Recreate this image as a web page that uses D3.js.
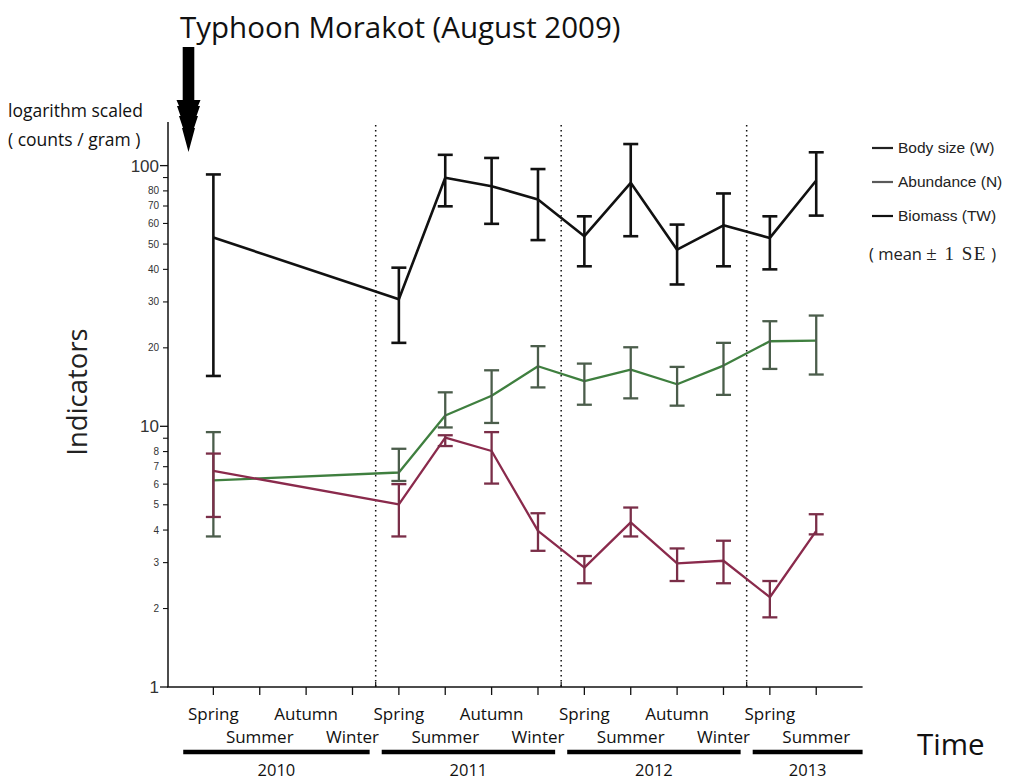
<!DOCTYPE html>
<html><head><meta charset="utf-8">
<script src="https://cdn.jsdelivr.net/npm/d3@7/dist/d3.min.js"></script>
<style>body{margin:0;background:#fff}svg{display:block}</style>
</head><body>
<script>
// ---- data ----
const seasons = ["Spring","Summer","Autumn","Winter","Spring","Summer","Autumn","Winter","Spring","Summer","Autumn","Winter","Spring","Summer"];
const years = ["2010","2011","2012","2013"];
const yearStart = [0,4,8,12];
const yearEnd = [3,7,11,13];
const sampled = [0,4,5,6,7,8,9,10,11,12,13];
// Biomass (TW) - black
const twMean  = [53.0,30.7,89.8,83.4,74.1,53.6,85.9,47.6,59.0,52.8,87.7];
const twUpper = [92.5,40.6,110,107,97.0,63.9,121,59.4,78.2,63.9,112.5];
const twLower = [15.6,20.9,69.8,59.8,51.8,41.1,53.6,35.0,41.1,40.0,64.3];
// Abundance (N) - green
const nMean  = [6.2,6.65,11.0,13.1,17.0,14.9,16.5,14.5,17.1,21.2,21.3];
const nUpper = [9.5,8.2,13.5,16.4,20.3,17.4,20.1,16.9,20.9,25.3,26.6];
const nLower = [3.78,6.17,9.9,10.3,14.1,12.1,12.8,12.0,13.2,16.6,15.8];
// Body size (W) - red
const wMean  = [6.74,5.02,9.05,8.04,3.97,2.87,4.28,2.98,3.05,2.21,3.97];
const wUpper = [7.86,6.0,9.24,9.5,4.64,3.18,4.88,3.40,3.64,2.55,4.60];
const wLower = [4.49,3.78,8.4,6.03,3.33,2.50,3.78,2.55,2.50,1.85,3.85];
const majorTicks = [1,10,100];
const minorTicks = [2,3,4,5,6,7,8,9,20,30,40,50,60,70,80,90];
const minorLabelled = [2,3,4,5,6,7,8,20,30,40,50,60,70,80];
const legendLabels = ["Body size (W)","Abundance (N)","Biomass (TW)"];

const W = 1012, H = 782;
const svg = d3.select("body").append("svg").attr("width",W).attr("height",H);
const x = d3.scaleLinear().domain([-1,14]).range([167,862.6]);
const y = d3.scaleLog().domain([1,147]).range([687,122]);
const sans = "'Open Sans', 'Noto Sans', sans-serif";
const arial = "'Liberation Sans', Arial, sans-serif";

// title
svg.append("text").attr("x",180).attr("y",38).attr("font-family",sans).attr("font-size",29.5).attr("fill","#111").text("Typhoon Morakot (August 2009)");
// arrow
svg.append("path").attr("fill","#000").attr("d",
 "M182.7,47 L194.3,47 L194.3,100 L200.5,100 L198,106 L200,106 L196.5,116 L198,116 L194,128 L195,128 L188.5,152 L182,128 L183,128 L179,116 L180.5,116 L177,106 L179,106 L176.5,100 L182.7,100 Z");

svg.append("text").attr("x",8).attr("y",117).attr("font-family",sans).attr("font-size",17.5).attr("fill","#111").text("logarithm scaled");
svg.append("text").attr("x",8).attr("y",146).attr("font-family",sans).attr("font-size",17.5).attr("fill","#111").text("( counts / gram )");

// axes lines
const axisColor = "#111";
svg.append("line").attr("x1",x(-1)+1).attr("x2",x(-1)+1).attr("y1",y(147)).attr("y2",y(1)).attr("stroke",axisColor).attr("stroke-width",1.5);
svg.append("line").attr("x1",x(-1)).attr("x2",x(14)).attr("y1",y(1)).attr("y2",y(1)).attr("stroke",axisColor).attr("stroke-width",1.5);
const ax0 = x(-1)+1;
// y ticks
majorTicks.forEach(t=>{
  svg.append("line").attr("x1",ax0-8).attr("x2",ax0).attr("y1",y(t)).attr("y2",y(t)).attr("stroke",axisColor).attr("stroke-width",1.3);
  svg.append("text").attr("x",ax0-9).attr("y",y(t)).attr("dy","0.35em").attr("text-anchor","end").attr("font-family",arial).attr("font-size",17).attr("fill","#333").text(d3.format("d")(t));
});
minorTicks.forEach(t=>{
  svg.append("line").attr("x1",ax0-5).attr("x2",ax0).attr("y1",y(t)).attr("y2",y(t)).attr("stroke",axisColor).attr("stroke-width",1.1);
});
minorLabelled.forEach(t=>{
  svg.append("text").attr("x",ax0-9).attr("y",y(t)).attr("dy","0.35em").attr("text-anchor","end").attr("font-family",arial).attr("font-size",10).attr("fill","#333").text(t);
});
// x ticks
seasons.forEach((s,i)=>{
  svg.append("line").attr("x1",x(i)).attr("x2",x(i)).attr("y1",y(1)).attr("y2",y(1)+8).attr("stroke",axisColor).attr("stroke-width",1.3);
  svg.append("text").attr("x",x(i)).attr("y",i%2===0?720:743).attr("text-anchor","middle").attr("font-family",sans).attr("font-size",17).attr("fill","#111").text(s);
});
// dotted separators
[3.5,7.5,11.5].forEach(v=>{
  svg.append("line").attr("x1",x(v)).attr("x2",x(v)).attr("y1",125).attr("y2",y(1)).attr("stroke","#111").attr("stroke-width",1.5).attr("stroke-dasharray","1.5,3.5");
  svg.append("line").attr("x1",x(v)).attr("x2",x(v)).attr("y1",y(1)-5).attr("y2",y(1)).attr("stroke","#111").attr("stroke-width",1.2);
});
// year bars
years.forEach((yr,k)=>{
  const a = k===0 ? x(-0.65) : x(yearStart[k]-0.37);
  const b = k===3 ? x(14) : x(yearEnd[k]+0.37);
  svg.append("line").attr("x1",a).attr("x2",b).attr("y1",752).attr("y2",752).attr("stroke","#000").attr("stroke-width",4.5);
  svg.append("text").attr("x",(a+b)/2).attr("y",776).attr("text-anchor","middle").attr("font-family",sans).attr("font-size",16.5).attr("fill","#111").text(yr);
});
svg.append("text").attr("x",917).attr("y",755).attr("font-family",sans).attr("font-size",29.5).attr("fill","#111").text("Time");
svg.append("text").attr("transform","translate(87,392) rotate(-90)").attr("text-anchor","middle").attr("font-family",sans).attr("font-size",27.5).attr("fill","#222").text("Indicators");

// series
function drawSeries(mean, upper, lower, lineColor, barColor, lw){
  const g = svg.append("g");
  const line = d3.line().x((d,j)=>x(sampled[j])).y(d=>y(d));
  g.append("path").datum(mean).attr("d",line).attr("fill","none").attr("stroke",lineColor).attr("stroke-width",lw).attr("stroke-linejoin","round");
  sampled.forEach((i,j)=>{
    const cx = x(i);
    g.append("line").attr("x1",cx).attr("x2",cx).attr("y1",y(upper[j])).attr("y2",y(lower[j])).attr("stroke",barColor).attr("stroke-width",lw);
    [upper[j],lower[j]].forEach(v=>{
      g.append("line").attr("x1",cx-7.5).attr("x2",cx+7.5).attr("y1",y(v)).attr("y2",y(v)).attr("stroke",barColor).attr("stroke-width",lw);
    });
  });
}
drawSeries(twMean,twUpper,twLower,"#111","#111",2.6);
drawSeries(nMean,nUpper,nLower,"#3f7f3f","#4b5d4b",2.3);
drawSeries(wMean,wUpper,wLower,"#8a2a4c","#7a2e48",2.3);

// legend
const legColors = ["#222","#5a5a5a","#111"];
legendLabels.forEach((l,k)=>{
  const ly = 148 + k*34;
  svg.append("line").attr("x1",872).attr("x2",893).attr("y1",ly).attr("y2",ly).attr("stroke",legColors[k]).attr("stroke-width",2.2);
  svg.append("text").attr("x",898).attr("y",ly).attr("dy","0.35em").attr("font-family",arial).attr("font-size",15.5).attr("fill","#222").text(l);
});
const mt = svg.append("text").attr("x",869).attr("y",260).attr("font-family",sans).attr("font-size",16.5).attr("fill","#222");
mt.append("tspan").text("( mean ");
mt.append("tspan").attr("font-family","'Liberation Serif', serif").attr("font-size",19).attr("letter-spacing",1.5).text("± 1 SE");
mt.append("tspan").text(" )");
</script>
</body></html>
